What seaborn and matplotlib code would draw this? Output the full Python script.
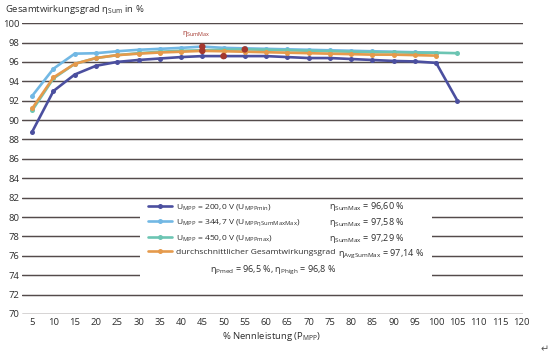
import numpy as np
import pandas as pd
import matplotlib
matplotlib.use("Agg")
import matplotlib.pyplot as plt
from matplotlib.patches import Rectangle
import seaborn as sns

# load levels in % of nominal power
load = [5, 10, 15, 20, 25, 30, 35, 40, 45, 50, 55, 60, 65, 70, 75, 80, 85, 90, 95, 100, 105]

# efficiency curves (eta_sum in %)
eta_umin = [88.8, 93.0, 94.7, 95.6, 96.0, 96.2, 96.35, 96.5, 96.6, 96.6, 96.6, 96.6,
            96.5, 96.4, 96.4, 96.3, 96.2, 96.1, 96.05, 95.9, 92.0]
eta_uopt = [92.5, 95.3, 96.85, 96.9, 97.1, 97.25, 97.35, 97.45, 97.58, 97.45, 97.4, 97.35,
            97.3, 97.25, 97.2, 97.15, 97.1, 97.05, 97.0, 96.95]
eta_umax = [91.0, 94.3, 95.8, 96.4, 96.7, 96.9, 97.05, 97.15, 97.2, 97.25, 97.29, 97.25,
            97.2, 97.15, 97.1, 97.05, 97.0, 97.0, 96.95, 96.95, 96.9]
eta_avg = [91.2, 94.4, 95.8, 96.4, 96.7, 96.85, 96.97, 97.05, 97.14, 97.1, 97.05, 97.0,
           96.95, 96.9, 96.85, 96.8, 96.75, 96.75, 96.7, 96.65]

# maxima marked in red
max_load = [45, 45, 50, 55]
max_eta = [97.58, 97.14, 96.60, 97.29]

labels = [r"U$_{\mathrm{MPP}}$ = 200,0 V (U$_{\mathrm{MPPmin}}$)",
          r"U$_{\mathrm{MPP}}$ = 344,7 V (U$_{\mathrm{MPP\eta SumMaxMax}}$)",
          r"U$_{\mathrm{MPP}}$ = 450,0 V (U$_{\mathrm{MPPmax}}$)",
          "durchschnittlicher Gesamtwirkungsgrad"]
max_texts = [r"η$_{\mathrm{SumMax}}$ = 96,60 %",
             r"η$_{\mathrm{SumMax}}$ = 97,58 %",
             r"η$_{\mathrm{SumMax}}$ = 97,29 %",
             r"η$_{\mathrm{AvgSumMax}}$ = 97,14 %"]
colors = ["#4b4f9f", "#72b8e4", "#6cc5b3", "#e59a4c"]

sns.set_theme(style="white")
plt.rcParams["font.family"] = ["Open Sans", "DejaVu Sans"]
plt.rcParams["mathtext.fontset"] = "custom"
plt.rcParams["mathtext.rm"] = "Open Sans"
plt.rcParams["mathtext.it"] = "Open Sans"
txt = "#2e2e2e"

fig = plt.figure(figsize=(5.57, 3.56), dpi=100)
ax = fig.add_axes([0.0395, 0.118, 0.9, 0.817])

series = [eta_umin, eta_uopt, eta_umax, eta_avg]
handles = []
for vals, col in zip(series, colors):
    sns.lineplot(x=load[:len(vals)], y=vals, ax=ax, color=col, lw=1.9,
                 marker="o", markersize=3.6, markeredgewidth=0, zorder=3)
    handles.append(ax.lines[-1])

sns.scatterplot(x=max_load, y=max_eta, ax=ax, color="#a4372e", s=22,
                edgecolor="none", zorder=5)
ax.text(43.5, 98.85, r"η$_{\mathrm{SumMax}}$", color="#a4372e", fontsize=5.5,
        ha="center", va="center")

ax.set_xlim(2.6, 120.5)
ax.set_ylim(70, 100)
ax.set_xticks(range(5, 121, 5))
ax.set_yticks(range(70, 101, 2))
ax.yaxis.grid(True, color="#544b4b", lw=1.05)
ax.xaxis.grid(False)
for s in ax.spines.values():
    s.set_visible(False)
ax.tick_params(axis="both", length=0, labelsize=6.8, labelcolor=txt)
ax.tick_params(axis="y", pad=2)
ax.tick_params(axis="x", pad=3)

# white box behind the legend breaks the grid lines
ax.add_patch(Rectangle((30.4, 72.35), 68.7, 9.35, facecolor="white",
                       edgecolor="none", zorder=2))

leg = ax.legend(handles, labels, loc="upper left", bbox_to_anchor=(0.242, 0.398),
                frameon=False, fontsize=6.1, handlelength=2.9, handletextpad=0.45,
                labelspacing=0.6, borderpad=0, labelcolor=txt)
leg.set_zorder(6)

row_y = [81.05, 79.4, 77.75, 76.15]
for i, (t, y) in enumerate(zip(max_texts, row_y)):
    ax.text(74.8 if i < 3 else 77.0, y, t, fontsize=6.5, color=txt, va="center", zorder=6)
ax.text(61.7, 74.5, r"η$_{\mathrm{Pmed}}$ = 96,5 %, η$_{\mathrm{Phigh}}$ = 96,8 %",
        fontsize=6.5, color=txt, ha="center", va="center", zorder=6)

fig.text(0.009, 0.972, r"Gesamtwirkungsgrad η$_{\mathrm{Sum}}$ in %", fontsize=6.8,
         color=txt, va="center")
fig.text(0.488, 0.055, r"% Nennleistung (P$_{\mathrm{MPP}}$)", fontsize=6.8,
         color=txt, ha="center", va="center")
fig.text(0.978, 0.018, "↵", fontsize=7, color="#555555", ha="center", va="center",
         family="DejaVu Sans")

fig.savefig("out.png", dpi=100)
